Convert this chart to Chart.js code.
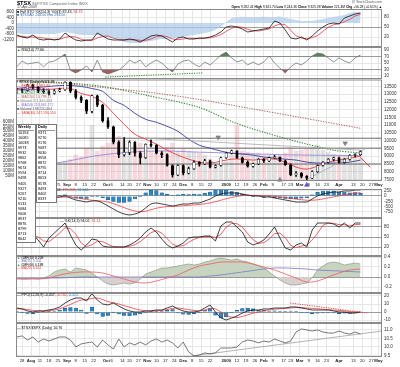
<!DOCTYPE html>
<html>
<head>
<meta charset="utf-8">
<script src="https://cdn.jsdelivr.net/npm/chart.js@4.4.1/dist/chart.umd.min.js"></script>
<style>
  body { margin: 0; background: #fff; }
  #wrap { position: relative; width: 400px; height: 367px; overflow: hidden; font-family: "Liberation Sans", Arial, sans-serif; }
  canvas { position: absolute; left: 0; }
  .t { position: absolute; white-space: nowrap; line-height: 1; color: #000; z-index: 5; }
  .tbl { position: absolute; background: #fff; border: 1px solid #777; z-index: 6; font-size: 3.8px; line-height: 5.05px; padding: 0 1px; }
  .tbl b { display: block; border-bottom: 1px solid #999; }
</style>
</head>
<body>
<div id="wrap"></div>
<script>
const FONT = '"Liberation Sans", Arial, sans-serif';

// trading-day slots, 3 days apart (day 0 = 28 Jul 2008)
const days = [-3,0,3,6,9,12,15,18,21,24,27,30,33,36,39,42,45,48,51,54,57,60,63,66,69,72,75,78,81,84,87,90,93,96,99,102,105,108,111,114,117,120,123,126,129,132,135,138,141,144,147,150,153,156,159,162,165,168,171,174,177,180,183,186,189];
const maDays = [-3,3,9,15,21,27,33,39,45,51,57,63,69,75,81,87,93,99,105,111,117,123,129,135,141,147,153,159,165,171,177,183,189];

const tickDays   = [0,5,10,15,20,25,30,35,40,47,50,56,60,65,70,75,80,85,90,95,100,105,114,120,125,130,135,140,146,150,155,160,165,170,177,185,190,195,199];
const tickLabels = ['28','Aug','11','18','25','Sep','8','15','22','Oct','6','14','20','27','Nov','10','17','24','Dec','8','15','22','2009','12','19','26','Feb','9','17','23','Mar','9','16','23','Apr','13','20','27','May'];
const monthLabels = ['Aug','Sep','Oct','Nov','Dec','2009','Feb','Mar','Apr','May'];

// panel 1: full stochastics + breadth area
const stoK = [26,20,17,26,14,11,14,11,14,32,20,11,8,11,11,32,23,14,11,11,11,14,11,5,14,23,26,23,14,5,17,20,14,14,17,17,20,26,35,50,53,50,44,35,38,41,44,47,68,62,41,17,14,20,11,23,38,50,59,62,59,77,83,89,92];
const stoD = [23,22,20,20,19,17,13,13,13,19,22,20,13,10,10,17,22,23,16,12,11,12,12,10,10,14,21,24,21,14,12,14,17,16,15,16,18,21,27,37,46,51,49,43,39,38,41,44,53,59,57,40,24,17,15,18,24,37,49,57,60,66,73,83,88];
const breadth = [-730,-800,-800,-800,-800,-800,-800,-800,-730,-650,-730,-800,-870,-870,-870,-870,-950,-1020,-1090,-1240,-1380,-1450,-1450,-1450,-1380,-1310,-1240,-1160,-1160,-1090,-1090,-1020,-950,-870,-800,-730,-650,-510,-290,70,360,420,460,440,410,430,450,420,440,470,360,290,220,150,150,150,220,290,360,440,510,580,730,800,800];

// panel 2: RSI
const rsi = [38,56,47,50,53,38,53,56,66,78,27,19,28,41,22,59,22,16,22,28,41,59,50,59,38,50,59,50,34,22,47,56,59,47,38,53,44,59,75,84,66,53,59,44,53,44,53,72,50,34,19,38,50,44,56,72,81,78,66,53,66,56,50,66,75];
const rsiTrendDays = [46.4, 100.6];
const rsiTrend = [6, 19];

// main panel: price, volume, averages
const priceOpen  = [13150,13300,13250,13590,13450,13200,13150,13050,13200,13300,13770,13200,12800,12600,11900,12900,12300,11300,10900,9900,9100,9250,9900,9200,8900,9760,9700,9200,9100,8400,7800,8400,7900,8200,8600,8500,8700,8300,8400,8900,9200,9350,8900,8600,8350,8500,8800,8700,8900,8950,8700,8450,7800,7900,7700,7580,8000,8400,8600,8800,8900,8600,8800,9050,9100];
const priceHigh  = [13400,13350,13650,13650,13500,13350,13250,13300,13400,13800,13800,13300,12900,12650,12950,12950,12350,11500,10950,10000,10200,10000,9950,9300,9800,10050,9750,9300,9150,8450,8450,8450,8300,8700,8650,8800,8750,8450,8950,9250,9400,9350,8950,8700,8550,8850,8850,8950,9050,8950,8750,8500,8000,7950,7750,8050,8450,8650,8850,8950,8950,8850,9100,9150,9350];
const priceLow   = [13050,13100,13200,13350,13100,13050,12950,13000,13150,13250,13100,12700,12450,11750,11800,12200,11200,10800,9800,8900,9000,9100,9000,8500,8850,9600,9150,8900,8350,7650,7750,7800,7850,8150,8350,8450,8250,8250,8350,8850,9150,8850,8550,8300,8300,8450,8600,8650,8850,8650,8400,7750,7700,7600,7480,7550,7950,8350,8550,8700,8550,8550,8750,8950,9050];
const priceClose = [13300,13250,13590,13450,13200,13150,13050,13200,13300,13770,13200,12800,12600,11900,12900,12300,11300,10900,9900,9100,9250,9900,9200,8900,9760,9700,9200,9100,8400,7800,8400,7900,8200,8600,8500,8700,8300,8400,8900,9200,9350,8900,8600,8350,8500,8800,8700,8900,8950,8700,8450,7800,7900,7700,7580,8000,8400,8600,8800,8900,8600,8800,9050,9100,9300];
const volume = [180,190,200,170,160,150,170,160,180,200,220,260,240,330,560,300,350,380,420,450,400,330,350,380,340,300,280,310,340,380,300,320,300,290,280,260,220,150,180,200,260,560,300,290,270,280,260,270,250,260,280,330,300,310,330,340,360,310,290,270,260,250,240,260,230];
const volMaDays = [-3,18,44,72,99,144,189];
const volMa = [170,180,260,300,290,265,255];
const ema20 = [13310,13310,13310,13310,13370,13370,13050,12860,12470,11770,11060,10420,10100,9780,9390,9070,8810,8620,8560,8680,8810,8810,8750,8810,8810,8620,8300,8170,8360,8620,8750,8880,9000];
const ema50 = [13370,13440,13440,13500,13560,13560,13500,13370,13180,12600,12280,11770,11380,11190,10930,10610,10100,9710,9520,9330,9200,9130,9070,8940,8880,8810,8750,8620,8560,8560,8560,8620,8750];
const ma200Days = [-3,21,45,70,99,118,137,155,174,189];
const ma200 = [13880,13760,13500,12920,12150,11190,10480,9900,9390,9200];
const ma150Days = [-3,23,44,72,99,127,155,189];
const ma150 = [13820,13690,13440,13110,12660,12090,11510,10800];
const pivotLevels = [10160,9519,8491];
const resistDays = [69,189];
const resist = [10160,9390];
const supportDays = [159,192];
const support = [7500,9500];
const projDays = [188.8,194.4];
const proj = [8940,8300];
const sellArrowDays = [109.5,180.4];
const sellArrowAt = [10225,9840];
const buyArrowDays = [144];
const buyArrowAt = [7464];
const markArrowDays = [159];
const markArrowAt = [7143];
const weeklyLevels = [10194,10085,10038,9973,9932,9862,9768,9674,9594,9498,9405,9327,9267,9210,9131,9084,9006,8937,8876,8799,8713,8642];
const dailyLevels = [9371,9270,9176,9087,9030,8958,8872,8795,8714,8653,8578,8493,8402,8337];

// panel 3: MACD
const macd = [-47,-47,-94,-47,-94,-94,-47,-47,-47,0,-94,-189,-236,-283,-236,-236,-330,-472,-614,-755,-850,-897,-850,-755,-566,-378,-330,-378,-425,-472,-425,-378,-378,-330,-330,-236,-142,0,94,142,142,142,94,47,0,0,-47,-47,-94,-142,-189,-236,-283,-283,-283,-142,0,94,142,189,189,236,236,283,283];
const macdSig = [-60,-55,-60,-60,-65,-75,-70,-65,-60,-50,-55,-80,-120,-165,-200,-220,-245,-290,-360,-450,-550,-640,-710,-740,-720,-650,-580,-530,-500,-490,-480,-460,-440,-420,-400,-370,-330,-270,-200,-130,-70,-20,15,30,30,25,15,0,-20,-45,-75,-110,-145,-175,-200,-200,-180,-140,-90,-40,5,50,90,125,160];
const macdHist = [13,8,-34,13,-29,-19,23,18,13,50,-39,-109,-116,-118,-36,-16,-85,-182,-254,-305,-300,-257,-140,-15,154,272,250,152,75,18,55,82,62,90,70,134,188,270,294,272,212,162,79,17,-30,-25,-62,-47,-74,-97,-114,-126,-138,-108,-83,58,180,234,232,229,184,186,146,158,123];

// panel 4: slow stochastics
const slowK = [47,50,53,56,41,20,47,62,77,92,56,26,11,26,44,41,23,20,20,20,20,26,35,47,65,77,65,44,26,17,23,32,47,50,50,53,53,38,83,95,95,80,65,35,26,32,41,59,80,47,17,11,26,32,20,71,92,92,92,89,80,92,77,92,92];
const slowD = [45,47,50,53,50,38,36,48,62,78,75,58,32,21,27,37,36,28,21,20,20,22,27,36,49,63,69,62,45,29,22,24,34,43,49,51,52,48,58,80,91,90,80,60,42,31,33,44,60,62,48,25,18,23,26,41,61,85,92,91,87,87,83,87,88];

// panel 5: money flow
const cmf = [-0.02,-0.04,-0.04,-0.02,-0.04,-0.02,0.02,0.10,0.14,0.16,0.10,0.18,0.16,0.14,0.08,0,-0.08,-0.14,-0.16,-0.14,-0.12,-0.14,-0.12,-0.04,0.06,0.10,0.14,0.18,0.18,0.20,0.22,0.24,0.26,0.24,0.26,0.30,0.32,0.36,0.38,0.36,0.34,0.36,0.32,0.30,0.26,0.22,0.18,0.10,0.02,-0.06,-0.12,-0.16,-0.16,-0.14,-0.12,-0.02,0.14,0.22,0.28,0.30,0.28,0.24,0.26,0.28,0.26];
const cmfMaRed = [-0.04,-0.04,-0.04,-0.02,0.04,0.08,0.10,0.10,0.08,0.02,-0.04,-0.10,-0.12,-0.08,-0.02,0.04,0.14,0.22,0.26,0.30,0.30,0.30,0.26,0.20,0.14,0.06,-0.02,-0.10,-0.08,0.00,0.08,0.14,0.16];
const cmfMaBlue = [-0.02,-0.02,-0.02,-0.02,-0.02,-0.01,0,0,0,0,0,0,0,0,0,0,0,0,0.02,0.04,0.07,0.10,0.13,0.16,0.18,0.18,0.17,0.16,0.14,0.13,0.12,0.11,0.10];

// panel 6: PPO
const ppo = [5,3.8,1.3,0,1.3,1.3,2.5,3.8,6.3,11.3,15,17.5,17.5,13.8,23,15,10,8.8,11.3,7.5,3.8,1.3,0,0,1.3,1.3,2.5,2.5,5,7.5,3.8,1.3,0,0,1.3,5,8.8,0,-7.5,-10,-7.5,-5,-1.3,1.3,2.5,2.5,3.8,3.8,5,5,5,6.3,6.3,5,3.8,2.5,2.5,2.5,2.5,1.3,0,0,-1.3,-1.3,0];
const ppoSig = [4,4,3,2,1.5,1,1.5,2.5,4,6.5,9.5,12.5,15,15.5,17,17.5,15.5,13,11.5,10,8,6,4,2.5,1.5,1,1.5,2,3,4.5,5,4,3,2,1.5,2.5,4.5,4,0,-4,-6.5,-7,-5.5,-3.5,-1.5,0,1.5,2.5,3.5,4,4.5,5,5.5,5.5,5,4.5,4,3.5,3,2.5,2,1.5,0.5,0,0];
const ppoHist = [1,-0.2,-1.7,-2,-0.2,0.3,1,1.3,2.3,4.8,5.5,5,2.5,-1.7,6,-2.5,-5.5,-4.2,-0.2,-2.5,-4.2,-4.7,-4,-2.5,-0.2,0.3,1,0.5,2,3,-1.2,-2.7,-3,-2,-0.2,2.5,4.3,-4,-7.5,-6,-1,2,4.2,4.8,4,2.5,2.3,1.3,1.5,1,0.5,1.3,0.8,-0.5,-1.2,-2,-1.5,-1,-0.5,-1.2,-2,-1.5,-1.8,-1.3,0];
const ppoTrendDays = [149.7,192.7];
const ppoTrend = [11.25,-1.25];

// panel 7: $TSX:$SPX ratio
const ratio = [10.59,10.65,10.41,10.59,10.29,10.47,10.35,10.47,10.59,10.59,10.41,10.0,10.18,10.24,10.29,10.0,10.41,10.12,9.88,10.47,10.0,10.24,10.12,10.29,10.12,10.35,10.47,10.29,10.41,10.24,9.94,10.29,9.71,9.47,9.53,9.65,9.59,9.65,9.94,9.94,9.94,10.0,10.29,10.41,10.35,10.24,10.35,10.29,10.47,10.35,10.24,10.35,10.88,11.06,11.0,10.94,11.0,10.88,10.82,10.82,10.94,10.82,10.76,10.88,10.76];
const ratioTrendDays = [95,201];
const ratioTrend = [9.47,10.94];

const X_MIN = -3.4, X_MAX = 201;
const wrap = document.getElementById('wrap');
const pts = (xs, ys) => xs.map((x, i) => ({ x, y: ys[i] }));
const tickText = {};
tickDays.forEach((d, i) => { tickText[d] = tickLabels[i]; });

const frame = {
  id: 'frame',
  afterDraw(chart) {
    const { ctx, chartArea: a } = chart;
    ctx.save();
    ctx.strokeStyle = '#8a8a8a';
    ctx.lineWidth = 1;
    ctx.strokeRect(a.left + 0.5, a.top + 0.5, a.right - a.left - 1, a.bottom - a.top - 1);
    ctx.restore();
  }
};

function line(data, color, width, extra) {
  return Object.assign({ type: 'line', data, borderColor: color, borderWidth: width, pointRadius: 0, fill: false, tension: 0 }, extra || {});
}

function yAxis(s, pos) {
  return {
    position: pos, min: s.min, max: s.max,
    grid: {
      drawOnChartArea: s.grid !== false, drawTicks: false,
      color: (c) => (s.strong || []).includes(c.tick && c.tick.value) ? '#9c9c9c' : '#e6e6e6'
    },
    border: { display: false },
    ticks: { font: { family: FONT, size: 4.5 }, color: '#333', padding: 2, autoSkip: false, callback: s.fmt || ((v) => String(v)) },
    afterBuildTicks: (ax) => { ax.ticks = s.ticks.map((v) => ({ value: v })); },
    afterFit: (ax) => { ax.width = pos === 'left' ? 16 : 18; ax.paddingTop = 0; ax.paddingBottom = 0; }
  };
}

function panel(top, h, datasets, right, left, showX) {
  const c = document.createElement('canvas');
  const xh = showX ? 9 : 0;
  c.width = 400; c.height = h + 8 + xh;
  c.style.top = (top - 4) + 'px';
  wrap.appendChild(c);
  const scales = {
    x: {
      type: 'linear', min: X_MIN, max: X_MAX, offset: false,
      grid: { color: '#e6e6e6', drawTicks: false, offset: false },
      border: { display: false },
      ticks: {
        display: showX, padding: 1.5, autoSkip: false, maxRotation: 0, color: '#222',
        font: (ctx) => ({ family: FONT, size: 4.3, weight: ctx.tick && monthLabels.includes(tickText[ctx.tick.value]) ? 'bold' : 'normal' }),
        callback: (v) => tickText[v] || ''
      },
      afterBuildTicks: (ax) => { ax.ticks = tickDays.map((v) => ({ value: v })); },
      afterFit: (ax) => { ax.height = xh; ax.paddingLeft = 0; ax.paddingRight = 0; }
    },
    y: yAxis(right, 'right')
  };
  if (left) scales.yl = yAxis(left, 'left');
  return new Chart(c, {
    type: 'bar',
    data: { datasets },
    options: {
      responsive: false, animation: false, devicePixelRatio: 1,
      layout: { padding: { left: left ? 0 : 16, right: 0, top: 4, bottom: 4 } },
      plugins: { legend: { display: false }, tooltip: { enabled: false } },
      scales
    },
    plugins: [frame]
  });
}

// ---- panel 1
panel(9, 38, [
  line(pts(days, stoK), '#111', 0.8, { order: 1 }),
  line(pts(days, stoD), '#e8383d', 0.8, { order: 2 }),
  line(pts(days, breadth), 'rgba(0,0,0,0)', 0, { yAxisID: 'yl', fill: 'origin', backgroundColor: 'rgba(176,204,234,0.75)', order: 5 })
], { min: -10, max: 104, ticks: [80, 50, 20], strong: [50] },
   { min: -1745, max: 1018, ticks: [800, 400, 0, -400, -800, -1200], grid: false });

// ---- panel 2
panel(47, 32, [
  line(pts(days, rsi), '#666', 0.7, { fill: { target: { value: 70 }, above: 'rgba(70,120,70,0.9)', below: 'rgba(0,0,0,0)' }, order: 1 }),
  line(pts(days, rsi), 'rgba(0,0,0,0)', 0, { fill: { target: { value: 30 }, above: 'rgba(0,0,0,0)', below: 'rgba(150,80,80,0.9)' }, order: 2 }),
  line(pts(rsiTrendDays, rsiTrend), '#2e8b2e', 1, { borderDash: [1.2, 1.2], order: 0 })
], { min: 0, max: 100, ticks: [90, 70, 50, 30, 10], strong: [70, 30] });

// ---- main price panel
const up = priceClose.map((c, i) => c >= priceOpen[i]);
panel(79, 102, [
  { type: 'bar', yAxisID: 'yl', data: pts(days, volume), grouped: false, barThickness: 4,
    backgroundColor: up.map((u) => u ? 'rgba(185,185,185,0.42)' : 'rgba(238,168,178,0.45)'), order: 10 },
  line(pts(volMaDays, volMa), '#9a86d8', 0.9, { yAxisID: 'yl', tension: 0.4, order: 9 }),
  line(pts([X_MIN, X_MAX], [pivotLevels[0], pivotLevels[0]]), '#6a6a6a', 1, { order: 8 }),
  line(pts([X_MIN, X_MAX], [pivotLevels[1], pivotLevels[1]]), '#6a6a6a', 1, { order: 8 }),
  line(pts([X_MIN, X_MAX], [pivotLevels[2], pivotLevels[2]]), '#6a6a6a', 1, { order: 8 }),
  line(pts(ma150Days, ma150), '#b0605a', 1, { borderDash: [1.3, 1.3], tension: 0.3, order: 6 }),
  line(pts(ma200Days, ma200), '#3a8a3a', 1.1, { borderDash: [1.3, 1.3], tension: 0.3, order: 6 }),
  line(pts(maDays, ema50), '#3b3d95', 0.9, { tension: 0.35, order: 5 }),
  line(pts(maDays, ema20), '#ee3a3f', 0.9, { tension: 0.35, order: 5 }),
  line(pts(resistDays, resist), '#a8a8a8', 0.8, { order: 4 }),
  line(pts(supportDays, support), '#a8a8a8', 0.8, { order: 4 }),
  line(pts(projDays, proj), '#ee3a3f', 1, { order: 4 }),
  { type: 'bar', data: days.map((d, i) => ({ x: d, y: [priceLow[i], priceHigh[i]] })), grouped: false, barThickness: 0.9,
    backgroundColor: '#000', order: 2 },
  { type: 'bar', data: days.map((d, i) => ({ x: d, y: [priceOpen[i], priceClose[i]] })), grouped: false, barThickness: 2.4,
    backgroundColor: up.map((u) => u ? '#fff' : '#000'), borderColor: '#000', borderWidth: 0.5, borderSkipped: false, order: 1 },
  { type: 'scatter', data: pts(sellArrowDays, sellArrowAt), pointStyle: 'triangle', rotation: 180, pointRadius: 2.6,
    backgroundColor: '#888', borderColor: '#666', borderWidth: 0.5, clip: false, order: 0 },
  { type: 'scatter', data: pts(buyArrowDays, buyArrowAt), pointStyle: 'triangle', pointRadius: 2.6,
    backgroundColor: '#888', borderColor: '#666', borderWidth: 0.5, clip: false, order: 0 },
  { type: 'scatter', data: pts(markArrowDays, markArrowAt), pointStyle: 'triangle', pointRadius: 2.6,
    backgroundColor: '#6b4fe0', borderColor: '#4a2fc0', borderWidth: 0.5, clip: false, order: 0 }
], { min: 7400, max: 13950, ticks: [7500, 8000, 8500, 9000, 9500, 10000, 10500, 11000, 11500, 12000, 12500, 13000, 13500] },
   { min: 0, max: 1020, ticks: [50, 100, 150, 200, 250, 300, 350, 400, 450, 500, 550, 600], grid: false, fmt: (v) => v + 'M' },
   true);

// ---- panel 3 MACD
panel(189, 29, [
  line(pts(days, macd), '#111', 0.8, { tension: 0.3, order: 1 }),
  line(pts(days, macdSig), '#ee3a3f', 0.8, { tension: 0.3, order: 2 }),
  { type: 'bar', data: pts(days, macdHist), grouped: false, barThickness: 3.6, backgroundColor: '#2d86c4', borderColor: '#1b4f7a', borderWidth: 0.4, order: 5 }
], { min: -1040, max: 330, ticks: [250, 0, -250, -500, -750], strong: [0] });

// ---- panel 4 slow stochastics
panel(218, 38, [
  line(pts(days, slowK), '#111', 0.8, { order: 1 }),
  line(pts(days, slowD), '#ee3a3f', 0.8, { order: 2 })
], { min: -7, max: 107, ticks: [80, 50, 20], strong: [80, 50, 20] });

// ---- panel 5 money flow
panel(256, 37, [
  line(pts(maDays, cmfMaRed), '#ee5a5f', 0.8, { tension: 0.35, order: 1 }),
  line(pts(maDays, cmfMaBlue), '#7c78c8', 0.8, { tension: 0.35, order: 2 }),
  line(pts(days, cmf), '#7f8e78', 0.6, { fill: { target: 'origin', above: 'rgba(196,210,188,0.95)', below: 'rgba(214,204,204,0.95)' }, order: 5 })
], { min: -0.32, max: 0.42, ticks: [0.4, 0.2, 0, -0.2], strong: [0], fmt: (v) => v.toFixed(1) });

// ---- panel 6 PPO
panel(293, 30, [
  line(pts(days, ppo), '#111', 0.8, { order: 1 }),
  line(pts(days, ppoSig), '#ee3a3f', 0.8, { tension: 0.3, order: 2 }),
  line(pts(ppoTrendDays, ppoTrend), '#e0464b', 1, { borderDash: [1.2, 1.2], order: 0 }),
  { type: 'bar', data: pts(days, ppoHist), grouped: false, barThickness: 3.6, backgroundColor: '#2d86c4', borderColor: '#1b4f7a', borderWidth: 0.4, order: 5 }
], { min: -13.75, max: 23.75, ticks: [20, 10, 0, -10], strong: [0] });

// ---- panel 7 relative ratio
panel(323, 34, [
  line(pts(days, ratio), '#555', 0.8, { order: 1 }),
  line(pts(ratioTrendDays, ratioTrend), '#a0a0a0', 0.8, { order: 2 })
], { min: 9.41, max: 11.41, ticks: [11.0, 10.5, 10.0, 9.5], fmt: (v) => v.toFixed(1) }, null, true);

// ---- texts
function text(x, y, html, size, style) {
  const d = document.createElement('div');
  d.className = 't';
  d.style.left = x + 'px';
  d.style.top = y + 'px';
  d.style.fontSize = size + 'px';
  if (style) Object.assign(d.style, style);
  d.innerHTML = html;
  wrap.appendChild(d);
  return d;
}
text(17, 0.5, '<b style="font-size:5.6px">$TSX</b> <span style="color:#666">S&amp;P/TSX Composite Index INDX</span>', 3.8);
text(17, 5.5, '17-Apr-2009', 3.6, { color: '#444' });
text(0, 1, '@ StockCharts.com', 3.4, { left: 'auto', right: '18px', color: '#555' });
text(0, 5.5, '<b>Open</b> 9,282.41 <b>High</b> 9,341.70 <b>Low</b> 9,244.36 <b>Close</b> 9,325.38 <b>Volume</b> 221.4M <b>Chg</b> +56.28 (+0.61%) &#9650;', 3.3, { left: 'auto', right: '18px' });
text(17, 10.5, '&#9632; Full STO %K(14,3) %D(3) 87.43, <span style="color:#e33">94.73</span>', 3.6);
text(17, 14.3, '<span style="color:#3b6fb5">&#9632; $TSXAD 248.00 Hist 294.00</span>', 3.6);
text(17, 49, '<span style="color:#3a7a3a">&#9650;</span> RSI(14) 77.66', 3.6);

const mainLegend = [
  ['&#9633; $TSX (Daily) 9,325.38', '#000'],
  ['&#8212; EMA(20) 8,883.94', '#e33'],
  ['&#8212; EMA(50) 8,743.65', '#3b3d95'],
  ['&#8212; MA(200) 9,221.05', '#3a8a3a'],
  ['&#8212; MA(150) 10,799.11', '#b0605a'],
  ['&#9632; Volume 221,465,408', '#888'],
  ['&#8212; MA(50) 253,861,272', '#7c6fd0'],
  ['&#9632; Volume 198,220,404', '#555'],
  ['&#8212; SMA(30) 247,190,550', '#e33']
];
mainLegend.forEach((r, i) => text(17, 80.6 + i * 3.95, r[0], 3.5, { color: r[1] }));

function table(x, y, w, title, rows) {
  const d = document.createElement('div');
  d.className = 'tbl';
  d.style.left = x + 'px';
  d.style.top = y + 'px';
  d.style.width = w + 'px';
  d.innerHTML = '<b>' + title + '</b>' + rows.map((v) => '<div>' + v + '</div>').join('');
  wrap.appendChild(d);
}
table(16, 124, 16, 'Weekly', weeklyLevels);
table(36, 124, 17, 'Daily', dailyLevels);

text(17, 188.8, '&#8212; MACD(12,26,9) 206.752, <span style="color:#e33">175.208</span>, <span style="color:#2d86c4">31.544</span>', 3.6);
text(60, 219.5, '&#8212; %K(14,3) 94.02, <span style="color:#e33">91.14</span>', 3.6);
text(17, 256.5, '<span style="color:#6a8a5a">&#9650;</span> CMF(20) 0.208', 3.3);
text(17, 260, '<span style="color:#7c78c8">&#8212; MA(50) 0.104</span>', 3.3);
text(17, 263.5, '<span style="color:#6a8a5a">&#9650;</span> CMF(60) 0.188', 3.3);
text(17, 267, '<span style="color:#e33">&#8212; MA(20) 0.161</span>', 3.3);
text(17, 293.5, '&#8212; PPO(12,26,9) -0.457, <span style="color:#e33">-0.782</span>, <span style="color:#2d86c4">0.325</span>', 3.6);
text(17, 326.5, '&#8212; $TSX:$SPX (Daily) 10.76', 3.6);
</script>
</body>
</html>
